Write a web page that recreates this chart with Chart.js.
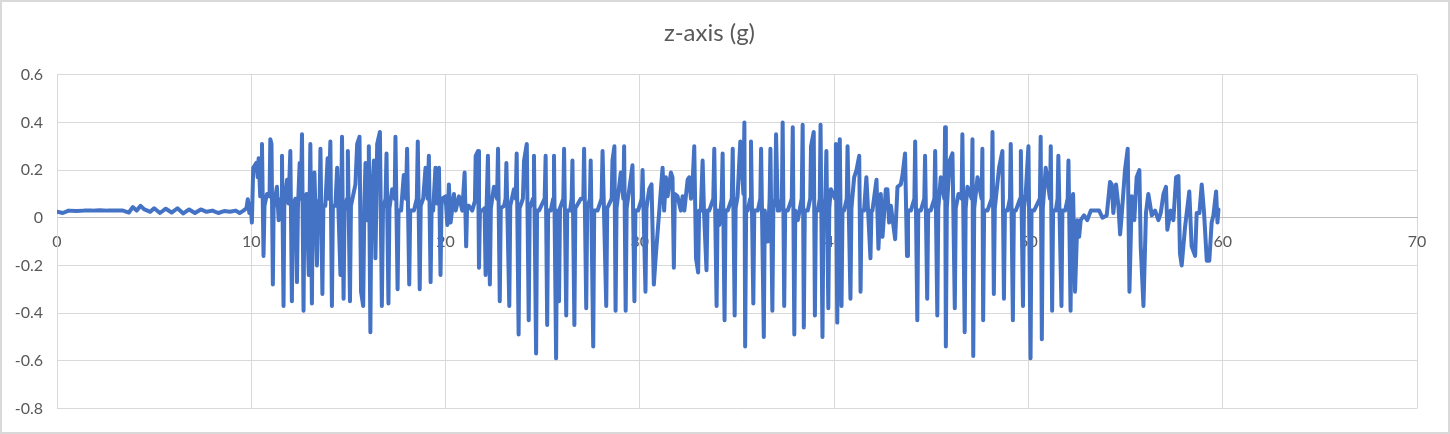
<!DOCTYPE html>
<html>
<head>
<meta charset="utf-8">
<title>z-axis (g)</title>
<script src="https://cdn.jsdelivr.net/npm/chart.js@4.4.1/dist/chart.umd.min.js"></script>
<style>
  body { margin: 0; background: #fff; }
  #wrap {
    width: 1450px;
    height: 434px;
    box-sizing: border-box;
    border: 2px solid #d9d9d9;
    background: #fff;
  }
  canvas { display: block; }
</style>
</head>
<body>
<div id="wrap"><canvas id="zChart" width="1446" height="430"></canvas></div>
<script>
// Samples, as [time (s), z (g)]
const restPhase = [
  [0, 0.025], [0.3, 0.02], [0.6, 0.03], [1.0, 0.028], [1.4, 0.03], [1.8, 0.03], [2.2, 0.032],
  [2.6, 0.03], [3.0, 0.031], [3.4, 0.03], [3.7, 0.022], [3.9, 0.045], [4.1, 0.03], [4.3, 0.05],
  [4.5, 0.035], [4.8, 0.025], [5.0, 0.04], [5.3, 0.02], [5.6, 0.038], [5.9, 0.022], [6.2, 0.04],
  [6.5, 0.018], [6.8, 0.035], [7.1, 0.02], [7.4, 0.035], [7.7, 0.025], [8.0, 0.03], [8.3, 0.02],
  [8.6, 0.028], [8.9, 0.025], [9.2, 0.03], [9.4, 0.02], [9.6, 0.03], [9.75, 0.04], [9.82, 0.078],
  [9.9, 0.02], [9.97, 0.06], [10.03, -0.02]
];

const burst1 = [
  [10.10, 0.21], [10.26, 0.23], [10.33, 0.17], [10.38, 0.25], [10.46, 0.09], [10.51, 0.12],
  [10.55, 0.31], [10.63, -0.16], [10.68, 0.05], [10.81, 0.10], [10.94, 0.09], [10.98, 0.33],
  [11.04, 0.31], [11.11, -0.28], [11.15, 0.04], [11.32, 0.13], [11.41, -0.01], [11.54, 0.08],
  [11.58, 0.26], [11.66, -0.37], [11.70, 0.05], [11.84, 0.16], [11.92, 0.06], [12.01, 0.28],
  [12.09, -0.35], [12.13, 0.05], [12.27, 0.08], [12.35, -0.27], [12.40, 0.04], [12.49, 0.23],
  [12.55, 0.08], [12.61, 0.35], [12.69, -0.39], [12.73, 0.04], [12.84, 0.10], [12.96, -0.24],
  [13.00, 0.06], [13.04, 0.31], [13.12, -0.36], [13.16, 0.05], [13.25, 0.19], [13.38, -0.20],
  [13.44, 0.06], [13.52, 0.08], [13.56, 0.29], [13.66, -0.32], [13.71, 0.05], [13.81, 0.05],
  [13.93, 0.25], [13.99, 0.08], [14.07, 0.32], [14.15, -0.37], [14.20, 0.05], [14.33, 0.05],
  [14.42, 0.21], [14.59, -0.24], [14.63, 0.08], [14.67, 0.34], [14.75, -0.34], [14.80, 0.03],
  [14.93, 0.08], [14.97, 0.28], [15.08, -0.35], [15.13, 0.05], [15.36, 0.14], [15.45, 0.31],
  [15.57, 0.34], [15.65, -0.31], [15.76, -0.37], [15.82, 0.06], [15.88, 0.23], [15.96, -0.01],
  [16.01, 0.08], [16.05, 0.30], [16.13, -0.48], [16.18, 0.05], [16.31, 0.24], [16.39, -0.17],
  [16.44, 0.08], [16.48, 0.31], [16.62, 0.36], [16.72, -0.37], [16.78, 0.04], [16.91, 0.08],
  [16.96, 0.27], [17.06, -0.36], [17.11, 0.04], [17.25, 0.12], [17.38, 0.08], [17.42, 0.34],
  [17.53, -0.30], [17.58, 0.03], [17.71, 0.03], [17.85, 0.18], [17.96, 0.08], [18.02, 0.29],
  [18.13, -0.28], [18.18, 0.03], [18.37, 0.03], [18.52, 0.08], [18.57, 0.32], [18.67, -0.30],
  [18.72, 0.05], [18.85, 0.08], [18.97, 0.21], [19.08, 0.08], [19.14, 0.26], [19.23, -0.27],
  [19.28, 0.03], [19.36, 0.03], [19.48, 0.21], [19.56, 0.06], [19.66, 0.21], [19.74, -0.24],
  [19.79, 0.05], [19.83, 0.08], [20.00, 0.09], [20.09, -0.03], [20.17, 0.14], [20.26, -0.02],
  [20.43, 0.10], [20.52, 0.03], [20.69, 0.09], [20.86, 0.03], [20.98, 0.19], [21.06, -0.12],
  [21.11, 0.05], [21.20, 0.05], [21.37, 0.03], [21.51, 0.07], [21.55, 0.26], [21.67, 0.28],
  [21.72, -0.21], [21.77, 0.03], [21.89, 0.03], [22.01, 0.04], [22.06, -0.24], [22.11, 0.04],
  [22.18, 0.26], [22.28, -0.28], [22.33, 0.04], [22.49, 0.13], [22.65, 0.08], [22.70, 0.29],
  [22.79, -0.35], [22.84, 0.04], [23.01, 0.05], [23.09, 0.08], [23.13, 0.23], [23.28, -0.37],
  [23.33, 0.05], [23.52, 0.12], [23.61, 0.08], [23.66, 0.27], [23.76, -0.49], [23.81, 0.04],
  [23.98, 0.08], [24.04, 0.24], [24.18, 0.31], [24.28, -0.43], [24.33, 0.04], [24.50, 0.08],
  [24.55, 0.26], [24.66, -0.57], [24.71, 0.03]
];

const burst2 = [
  [24.81, 0.03], [25.10, 0.08], [25.15, 0.26], [25.23, -0.45], [25.28, 0.03], [25.41, 0.03],
  [25.54, 0.08], [25.58, 0.26], [25.69, -0.59], [25.74, 0.03], [25.84, -0.35], [25.89, 0.04],
  [26.06, 0.08], [26.10, 0.29], [26.21, -0.41], [26.26, 0.03], [26.41, 0.03], [26.49, 0.08],
  [26.53, 0.24], [26.63, -0.45], [26.68, 0.04], [26.96, 0.08], [27.09, 0.08], [27.13, 0.29],
  [27.24, -0.38], [27.29, 0.04], [27.43, 0.08], [27.47, 0.24], [27.60, -0.54], [27.65, 0.03],
  [27.82, 0.03], [28.03, 0.08], [28.08, 0.28], [28.27, -0.37], [28.32, 0.04], [28.55, 0.08],
  [28.59, 0.24], [28.69, 0.30], [28.75, -0.39], [28.80, 0.04], [29.02, 0.19], [29.15, 0.08],
  [29.19, 0.30], [29.27, -0.39], [29.32, 0.04], [29.54, 0.17], [29.62, 0.22], [29.72, -0.35],
  [29.77, 0.03], [29.91, 0.03], [30.10, 0.08], [30.14, 0.20], [30.29, -0.31], [30.34, 0.04],
  [30.48, 0.12], [30.60, 0.14], [30.72, -0.28], [30.82, -0.16], [31.00, 0.03], [31.17, 0.21],
  [31.25, 0.03], [31.34, 0.17], [31.43, 0.09], [31.60, 0.19], [31.68, 0.17], [31.75, -0.21],
  [31.80, 0.10], [31.94, 0.09], [32.11, 0.03], [32.20, 0.09], [32.29, 0.03], [32.46, 0.16],
  [32.54, 0.17], [32.63, 0.08], [32.71, 0.14], [32.80, 0.30], [32.89, -0.17], [33.00, -0.23],
  [33.05, 0.03], [33.14, 0.03], [33.23, 0.24], [33.30, 0.03], [33.43, -0.22], [33.48, 0.03],
  [33.57, 0.03], [33.78, 0.08], [33.83, 0.29], [33.95, -0.37], [34.00, 0.03], [34.09, -0.03],
  [34.21, 0.08], [34.26, 0.27], [34.36, -0.43], [34.41, 0.03], [34.52, 0.03], [34.73, 0.08],
  [34.78, 0.29], [34.88, -0.41], [34.93, 0.04], [35.03, 0.09], [35.17, 0.32], [35.33, 0.10],
  [35.38, 0.40], [35.42, -0.54], [35.47, 0.03], [35.55, 0.03], [35.68, 0.08], [35.72, 0.32],
  [35.84, -0.36], [35.89, 0.03], [36.07, 0.03], [36.20, 0.08], [36.24, 0.29], [36.38, -0.50],
  [36.43, 0.03], [36.58, -0.10], [36.68, 0.08], [36.72, 0.29], [36.82, -0.39], [36.87, 0.04],
  [36.97, 0.08], [37.01, 0.35], [37.10, 0.03], [37.18, 0.03], [37.31, 0.08], [37.35, 0.40],
  [37.43, -0.37], [37.48, 0.03], [37.61, 0.03], [37.82, 0.08], [37.87, 0.38], [37.95, -0.49],
  [38.00, 0.03], [38.13, -0.01], [38.33, 0.08], [38.38, 0.39], [38.44, -0.46], [38.49, 0.03],
  [38.64, 0.03], [38.77, 0.08], [38.81, 0.30], [38.95, 0.36], [39.01, -0.41], [39.06, 0.03],
  [39.16, 0.03], [39.26, 0.08], [39.30, 0.39], [39.40, -0.50], [39.45, 0.03], [39.55, 0.08],
  [39.60, 0.28], [39.70, -0.38], [39.75, 0.04], [39.83, 0.12]
];

const burst3 = [
  [40.05, 0.08], [40.09, 0.31], [40.16, -0.44], [40.21, 0.05], [40.29, 0.33], [40.38, -0.37],
  [40.43, 0.03], [40.51, 0.03], [40.65, 0.08], [40.69, 0.30], [40.84, -0.34], [40.89, 0.04],
  [41.03, 0.17], [41.15, 0.20], [41.29, 0.26], [41.36, -0.31], [41.41, 0.03], [41.54, 0.03],
  [41.66, 0.17], [41.87, -0.17], [41.92, 0.03], [41.97, 0.03], [42.18, 0.16], [42.28, -0.13],
  [42.40, 0.10], [42.49, -0.08], [42.66, 0.12], [42.74, 0.12], [42.83, -0.02], [42.92, 0.05],
  [43.14, -0.09], [43.26, 0.13], [43.43, 0.14], [43.52, 0.18], [43.65, 0.27], [43.75, -0.16],
  [43.80, 0.03], [43.95, 0.03], [44.13, 0.08], [44.17, 0.32], [44.28, -0.43], [44.33, 0.03],
  [44.46, 0.03], [44.64, 0.08], [44.68, 0.26], [44.79, -0.34], [44.84, 0.03], [44.97, 0.03],
  [45.16, 0.08], [45.20, 0.28], [45.31, -0.41], [45.36, 0.04], [45.49, 0.17], [45.67, 0.08],
  [45.71, 0.38], [45.75, -0.54], [45.80, 0.04], [45.95, 0.24], [46.09, 0.27], [46.21, -0.38],
  [46.26, 0.04], [46.40, 0.10], [46.56, 0.08], [46.60, 0.35], [46.72, -0.48], [46.77, 0.04],
  [46.86, 0.13], [47.08, 0.08], [47.12, 0.33], [47.16, -0.58], [47.21, 0.04], [47.38, 0.17],
  [47.59, 0.08], [47.63, 0.29], [47.67, -0.43], [47.72, 0.03], [47.89, 0.03], [48.11, 0.08],
  [48.15, 0.36], [48.22, -0.32], [48.27, 0.04], [48.49, 0.21], [48.66, 0.28], [48.74, -0.34],
  [48.79, 0.03], [48.92, 0.03], [49.05, 0.08], [49.09, 0.31], [49.20, -0.43], [49.25, 0.03],
  [49.35, 0.03], [49.57, 0.08], [49.61, 0.28], [49.72, -0.37], [49.77, 0.04], [49.86, 0.10],
  [50.00, 0.30], [50.11, -0.59], [50.16, 0.03], [50.29, 0.03], [50.59, 0.08], [50.63, 0.34],
  [50.69, -0.51], [50.74, 0.04], [50.89, 0.21], [51.11, 0.08], [51.15, 0.30], [51.22, -0.39],
  [51.27, 0.03], [51.41, 0.03], [51.50, 0.08], [51.54, 0.26], [51.70, -0.37], [51.75, 0.03],
  [51.89, 0.03], [52.02, 0.08], [52.06, 0.24], [52.17, -0.39], [52.22, 0.04], [52.30, 0.10],
  [52.40, -0.31], [52.52, -0.01]
];

const tailPhase = [
  [52.61, -0.08], [52.69, -0.01], [52.86, 0.01], [53.03, -0.01], [53.21, 0.03], [53.38, 0.03],
  [53.64, 0.03], [53.81, 0.0], [54.03, 0.01], [54.20, 0.15], [54.29, 0.14], [54.37, 0.02],
  [54.51, 0.14], [54.63, 0.05], [54.72, -0.07], [54.80, 0.01], [54.97, 0.20], [55.11, 0.29],
  [55.20, -0.31], [55.32, 0.09], [55.45, -0.01], [55.57, 0.17], [55.71, 0.20], [55.78, -0.12],
  [55.92, -0.37], [56.05, 0.02], [56.17, 0.10], [56.35, 0.01], [56.52, 0.03], [56.69, -0.01],
  [56.81, 0.02], [56.95, 0.10], [57.08, 0.13], [57.15, -0.05], [57.32, 0.03], [57.46, -0.01],
  [57.60, 0.17], [57.72, 0.175], [57.80, -0.15], [57.89, -0.20], [58.06, -0.04], [58.28, 0.11],
  [58.40, -0.12], [58.58, -0.16], [58.66, 0.02], [58.80, 0.02], [58.92, 0.14], [59.04, 0.02],
  [59.18, -0.18], [59.31, -0.18], [59.43, -0.02], [59.52, 0.01], [59.66, 0.11], [59.73, -0.02],
  [59.78, 0.035]
];

// Axis ticks
const xTicks = [0, 10, 20, 30, 40, 50, 60, 70];
const yTicks = [-0.8, -0.6, -0.4, -0.2, 0, 0.2, 0.4, 0.6];

const textColor = "#595959";
const gridColor = "#d9d9d9";
const fontFamily = "Lato, 'Liberation Sans', Arial, sans-serif";

const points = [...restPhase, ...burst1, ...burst2, ...burst3, ...tailPhase]
  .map(([t, z]) => ({ x: t, y: z }));

const ctx = document.getElementById("zChart").getContext("2d");
new Chart(ctx, {
  type: "line",
  data: {
    datasets: [
      {
        label: "z-axis (g)",
        data: points,
        borderColor: "#4472c4",
        borderWidth: 4,
        borderJoinStyle: "round",
        borderCapStyle: "round",
        pointRadius: 0,
        tension: 0,
        fill: false,
      },
    ],
  },
  options: {
    responsive: false,
    animation: false,
    layout: {
      padding: { left: 0, right: 31, top: 0, bottom: 22 },
    },
    plugins: {
      legend: { display: false },
      tooltip: { enabled: false },
      title: {
        display: true,
        text: "z-axis (g)",
        color: textColor,
        font: { family: fontFamily, size: 24, weight: "normal" },
        padding: { top: 17, bottom: 27 },
      },
    },
    scales: {
      x: {
        type: "linear",
        position: { y: 0 },
        min: xTicks[0],
        max: xTicks[xTicks.length - 1],
        afterBuildTicks: (scale) => {
          scale.ticks = xTicks.map((v) => ({ value: v }));
        },
        afterFit: (scale) => {
          scale.height = 0;
        },
        ticks: {
          color: textColor,
          font: { family: fontFamily, size: 16 },
          padding: 14,
          maxRotation: 0,
        },
        grid: { color: gridColor, lineWidth: 1, drawTicks: false },
        border: { color: "#bfbfbf", width: 1 },
      },
      y: {
        min: yTicks[0],
        max: yTicks[yTicks.length - 1],
        afterBuildTicks: (scale) => {
          scale.ticks = yTicks.map((v) => ({ value: v }));
        },
        afterFit: (scale) => {
          scale.width = 55;
        },
        ticks: {
          color: textColor,
          font: { family: fontFamily, size: 16 },
          padding: 14,
          callback: (v) => String(Number(v.toFixed(1))),
        },
        grid: { color: gridColor, lineWidth: 1, drawTicks: false },
        border: { color: gridColor, width: 1 },
      },
    },
  },
});
</script>
</body>
</html>
